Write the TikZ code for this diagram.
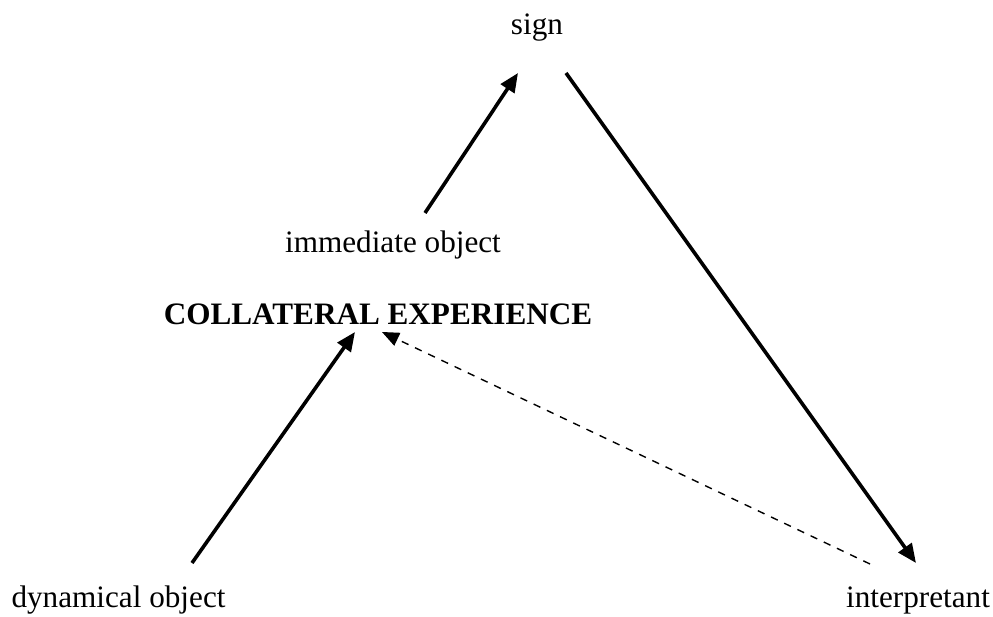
\documentclass[tikz,border=0pt]{standalone}
\usepackage{fontspec}
\setmainfont{Liberation Serif}
\usetikzlibrary{arrows.meta}
\begin{document}
\begin{tikzpicture}[x=0.5pt,y=0.5pt,
    word/.style={anchor=base,inner sep=0pt,font=\fontsize{15.6}{18}\selectfont},
    arr/.style={line width=1.8pt,-{Triangle[length=9.5pt,width=8pt]}},
    darr/.style={line width=0.7pt,dash pattern=on 3.7pt off 3.6pt,-{Triangle[length=8.5pt,width=7pt]}}]
    \useasboundingbox (0,0) rectangle (993,617);
    \node[word] (sign) at (537,582) {sign};
    \node[word] (immobj) at (393,364) {immediate object};
    \node[word] (collat) at (378,292) {\bfseries COLLATERAL EXPERIENCE};
    \node[word] (dynobj) at (118.5,9) {dynamical object};
    \node[word] (interp) at (918,9) {interpretant};
    \draw[arr] ([shift={(32,40)}]immobj.base) -- ([shift={(-19,-38)}]sign.base);
    \draw[arr] ([shift={(29,-38)}]sign.base) -- ([shift={(-2,45)}]interp.base);
    \draw[arr] ([shift={(73.5,45)}]dynobj.base) -- ([shift={(-23,-7)}]collat.base);
    \draw[darr] ([shift={(-48,44)}]interp.base) -- ([shift={(4,-7)}]collat.base);
\end{tikzpicture}
\end{document}
